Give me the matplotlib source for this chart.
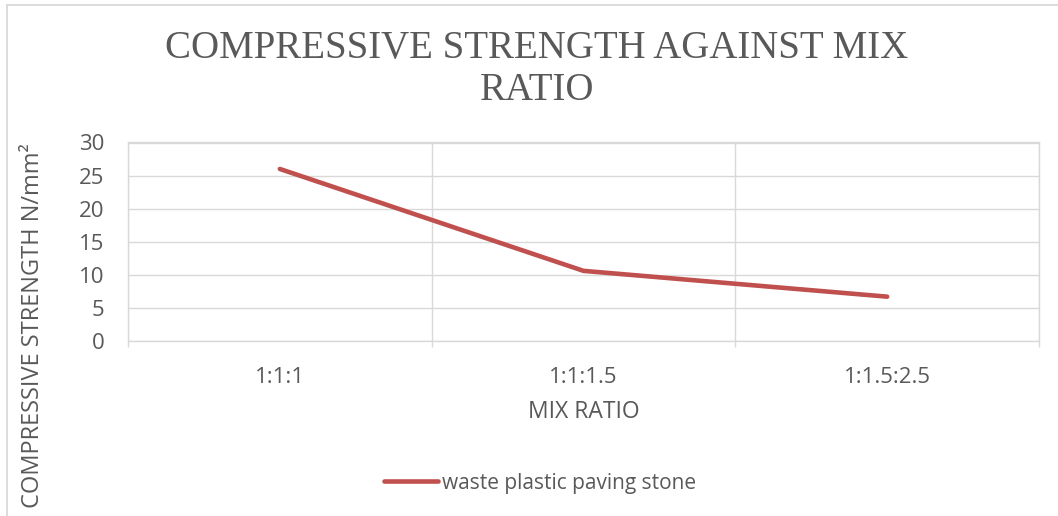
import matplotlib
matplotlib.use("Agg")
import matplotlib.pyplot as plt
from matplotlib.lines import Line2D
from matplotlib.ticker import FixedLocator

# Data
mix_ratios = ["1:1:1", "1:1:1.5", "1:1.5:2.5"]
strength = [26.0, 10.6, 6.7]
series_name = "waste plastic paving stone"
y_ticks = [0, 5, 10, 15, 20, 25, 30]
title_lines = ["COMPRESSIVE STRENGTH AGAINST MIX", "RATIO"]

W, H = 1058, 516
fig = plt.figure(figsize=(W / 100, H / 100), dpi=100)
fig.patch.set_facecolor("white")

grid_c = "#D9D9D9"
text_c = "#595959"
line_c = "#C0504D"
sans = "Open Sans"

ax = fig.add_axes([128 / W, 1 - 341 / H, (1039 - 128) / W, (341 - 142.5) / H])
x = list(range(len(mix_ratios)))
ax.plot(x, strength, color=line_c, lw=3.3, solid_capstyle="round",
        solid_joinstyle="round", label=series_name, zorder=3)

ax.set_xlim(-0.5, len(mix_ratios) - 0.5)
ax.set_ylim(0, 30)
ax.set_yticks(y_ticks)
ax.set_xticks(x)
ax.set_xticklabels(mix_ratios)
ax.xaxis.set_minor_locator(FixedLocator([i - 0.5 for i in range(len(mix_ratios) + 1)]))

ax.tick_params(axis="x", which="major", length=0, pad=19, labelsize=16,
               labelcolor=text_c)
ax.tick_params(axis="x", which="minor", length=4, width=1.0, color=grid_c,
               direction="out")
ax.tick_params(axis="y", length=0, pad=17, labelsize=16, labelcolor=text_c)
for lab in ax.get_xticklabels() + ax.get_yticklabels():
    lab.set_fontfamily(sans)

ax.grid(axis="y", color=grid_c, lw=1.0)
ax.grid(axis="x", which="minor", color=grid_c, lw=1.0)
ax.set_axisbelow(True)
for s in ax.spines.values():
    s.set_color(grid_c)
    s.set_linewidth(1.0)

ax.set_xlabel("MIX RATIO", fontsize=16.5, color=text_c, family=sans, labelpad=8)

# Vertical axis title
fig.text(33 / W, 1 - 143 / H, "COMPRESSIVE STRENGTH N/mm²", rotation=90,
         ha="center", va="top", fontsize=17, color=text_c, family=sans)

# Chart title, two lines
title_cx = 0.5 * (166 + 908) / W
for line, base in zip(title_lines, [58, 100]):
    fig.text(title_cx, 1 - base / H, line, ha="center", va="baseline",
             fontsize=28, color=text_c, family="Liberation Serif")

# Legend
leg = fig.legend(handles=[Line2D([0], [0], color=line_c, lw=3.3,
                                 solid_capstyle="round")],
                 labels=[series_name], loc="center",
                 bbox_to_anchor=(540 / W, 1 - 483 / H), frameon=False,
                 handlelength=2.6, handletextpad=0.2,
                 prop={"family": sans, "size": 15})
for t in leg.get_texts():
    t.set_color(text_c)

# Chart-area border
fig.add_artist(Line2D([7 / W, 1], [1 - 5 / H, 1 - 5 / H], color=grid_c,
                      lw=1.3, transform=fig.transFigure))
fig.add_artist(Line2D([7 / W, 7 / W], [0, 1 - 5 / H], color=grid_c,
                      lw=1.3, transform=fig.transFigure))

fig.savefig("out.png", dpi=100, facecolor="white")
